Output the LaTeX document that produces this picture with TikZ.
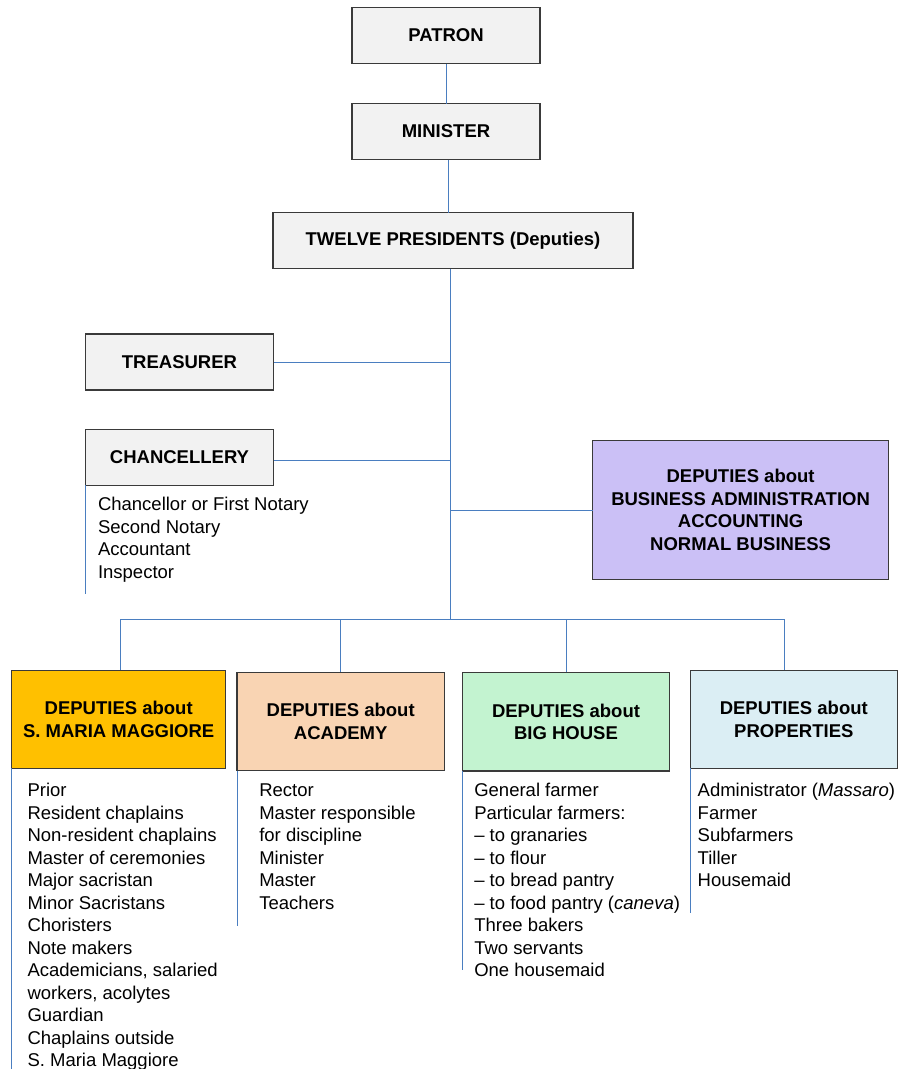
\documentclass[tikz,border=0pt]{standalone}
\usepackage{fontspec}
\setmainfont{Liberation Sans}
\definecolor{conncol}{HTML}{4A7EC0}
\definecolor{boxline}{HTML}{3A3A3A}
\definecolor{grayfill}{HTML}{F2F2F2}
\definecolor{smfill}{HTML}{FFC000}
\definecolor{acfill}{HTML}{F9D4B3}
\definecolor{bhfill}{HTML}{C3F3D0}
\definecolor{prfill}{HTML}{DBEEF4}
\definecolor{bufill}{HTML}{CBC0F6}
\tikzset{
  box/.style={draw=boxline, line width=1.4pt, fill=grayfill, inner sep=0pt, outer sep=0pt,
    align=center, font=\bfseries\fontsize{18.5}{22.5}\selectfont},
  conn/.style={draw=conncol, line width=1pt},
  listtext/.style={anchor=north west, inner sep=0pt, outer sep=0pt, align=left,
    font=\fontsize{18.5}{22.5}\selectfont},
}
\begin{document}
\begin{tikzpicture}[x=1pt,y=-1pt]
\useasboundingbox (0,0) rectangle (905,1069);
% top chain
\node[box, minimum width=188, minimum height=56] (patron) at (446,35.5) {PATRON};
\node[box, minimum width=188, minimum height=56] (minister) at (446,131.5) {MINISTER};
\node[box, minimum width=360, minimum height=56] (twelve) at (453,240.5) {TWELVE PRESIDENTS (Deputies)};
\node[box, minimum width=188, minimum height=56] (treasurer) at (179.5,362) {TREASURER};
\node[box, minimum width=188, minimum height=56] (chancellery) at (179.5,457.3) {CHANCELLERY};
\node[box, fill=bufill, minimum width=296, minimum height=138.6] (business) at (740.6,510)
  {DEPUTIES about\\BUSINESS ADMINISTRATION\\ACCOUNTING\\NORMAL BUSINESS};
% lower boxes
\node[box, fill=smfill, minimum width=214, minimum height=98] (sm) at (118.7,719.3)
  {DEPUTIES about\\S. MARIA MAGGIORE};
\node[box, fill=acfill, minimum width=207.3, minimum height=98.4] (acad) at (340.7,721.5)
  {DEPUTIES about\\ACADEMY};
\node[box, fill=bhfill, minimum width=207.4, minimum height=98.7] (big) at (566,721.7)
  {DEPUTIES about\\BIG HOUSE};
\node[box, fill=prfill, minimum width=207, minimum height=98] (prop) at (793.8,719.3)
  {DEPUTIES about\\PROPERTIES};
% coordinates
\coordinate (jt) at (450,619.5);
\coordinate (chj) at (450,460.5);
\coordinate (busL) at (120,619.5);
\coordinate (busR) at (784.5,619.5);
% connectors
\draw[conn] (patron) -- (minister);
\draw[conn] (minister.south -| 448,0) -- (twelve.north -| 448,0);
\draw[conn] (twelve.south -| jt) -- (jt);
\draw[conn] (treasurer.east) -- (treasurer.east -| jt);
\draw[conn] (chancellery.east |- chj) -- (chj);
\draw[conn] (business.west) -- (business.west -| jt);
\draw[conn] (busL) -- (busR);
\draw[conn] (busL) -- (busL |- sm.north);
\draw[conn] (acad.north |- busL) -- (acad.north);
\draw[conn] (big.north |- busL) -- (big.north);
\draw[conn] (busR) -- (busR |- prop.north);
% list rules
\coordinate (chend) at (86.5,594);
\coordinate (smend) at (11.7,1069);
\coordinate (acend) at (237,925.7);
\coordinate (bhend) at (462.5,969.5);
\coordinate (prend) at (690.5,912.7);
\draw[conn] (chancellery.south west) -- (chancellery.south west |- chend);
\draw[conn] (sm.south west) -- (sm.south west |- smend);
\draw[conn] (acad.south west) -- (acad.south west |- acend);
\draw[conn] (big.south west) -- (big.south west |- bhend);
\draw[conn] (prop.south west) -- (prop.south west |- prend);
% lists
\node[listtext] (chlist) at (98,494.9) {\strut Chancellor or First Notary\\Second Notary\\Accountant\\Inspector};
\node[listtext] (smlist) at (27.5,780.9) {\strut Prior\\Resident chaplains\\Non-resident chaplains\\Master of ceremonies\\Major sacristan\\Minor Sacristans\\Choristers\\Note makers\\Academicians, salaried\\workers, acolytes\\Guardian\\Chaplains outside\\S. Maria Maggiore};
\node[listtext] (aclist) at (259.3,780.9) {\strut Rector\\Master responsible\\for discipline\\Minister\\Master\\Teachers};
\node[listtext] (bhlist) at (474.3,780.9) {\strut General farmer\\Particular farmers:\\– to granaries\\– to flour\\– to bread pantry\\– to food pantry (\textit{caneva})\\Three bakers\\Two servants\\One housemaid};
\node[listtext] (prlist) at (697.7,780.9) {\strut Administrator (\textit{Massaro})\\Farmer\\Subfarmers\\Tiller\\Housemaid};
\end{tikzpicture}
\end{document}
